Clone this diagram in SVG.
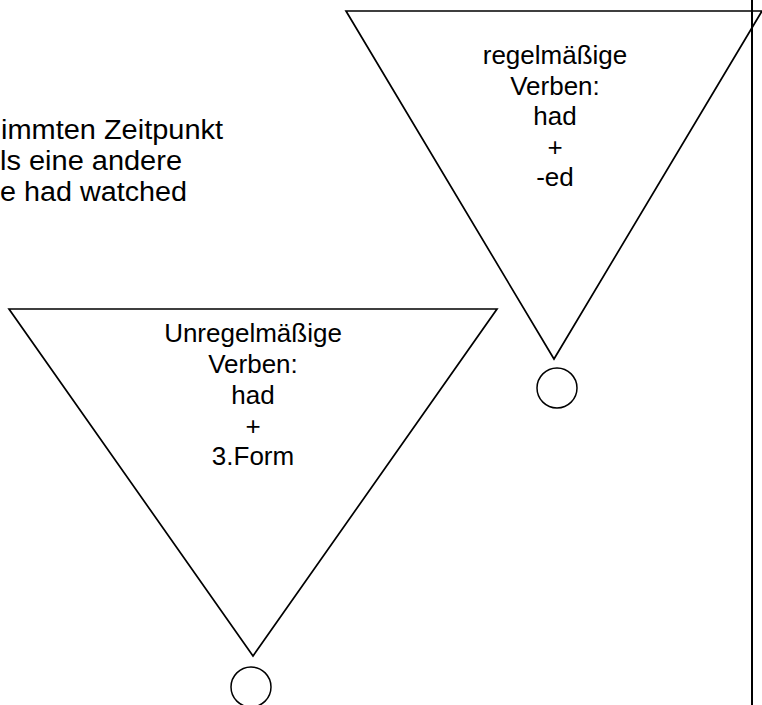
<svg xmlns="http://www.w3.org/2000/svg" width="762" height="705" viewBox="0 0 762 705">
<style>
.s{fill:none;stroke:#000;stroke-width:1.7}
.v{fill:none;stroke:#000;stroke-width:2}
.c{fill:#fff;stroke:#000;stroke-width:1.5}
.t{font-family:"Liberation Sans",Arial,sans-serif;font-size:26px;fill:#000}
.p{font-size:27px}
.m{text-anchor:middle}
</style>
<rect width="762" height="705" fill="#fff"/>
<g id="intro-text">
<text class="t p" x="1" y="139" textLength="222" lengthAdjust="spacingAndGlyphs">immten Zeitpunkt</text>
<text class="t p" x="0" y="170" textLength="182" lengthAdjust="spacingAndGlyphs">ls eine andere</text>
<text class="t p" x="0" y="201" textLength="187" lengthAdjust="spacingAndGlyphs">e had watched</text>
</g>
<g id="connectors">
<line class="v" x1="752" y1="0" x2="752" y2="705"/>
</g>
<g id="regular">
<polygon class="s" points="346,11 762,11 554,359"/>
<text class="t m" x="555" y="64">regelmäßige</text>
<text class="t m" x="555" y="94.5">Verben:</text>
<text class="t m" x="555" y="125">had</text>
<text class="t m" x="555" y="155.5">+</text>
<text class="t m" x="555" y="186">-ed</text>
</g>
<g id="regular-circle">
<ellipse class="c" cx="557" cy="388" rx="20" ry="20"/>
</g>
<g id="irregular">
<polygon class="s" points="9,309 497,309 253,656"/>
<text class="t m" x="253" y="342">Unregelmäßige</text>
<text class="t m" x="253" y="373">Verben:</text>
<text class="t m" x="253" y="404">had</text>
<text class="t m" x="253" y="434.5">+</text>
<text class="t m" x="253" y="465">3.Form</text>
</g>
<g id="irregular-circle">
<ellipse class="c" cx="251" cy="687" rx="20" ry="20"/>
</g>
</svg>
